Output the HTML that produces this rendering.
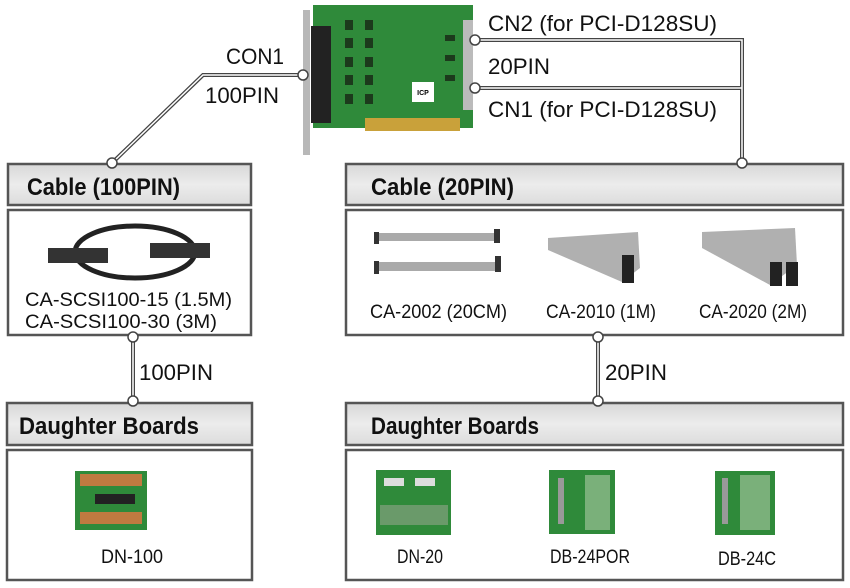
<!DOCTYPE html>
<html><head><meta charset="utf-8"><style>
body{margin:0;background:#fff}
svg{display:block}
.h{font-family:"Liberation Sans",sans-serif;font-weight:bold;font-size:24px;fill:#111}
.t{font-family:"Liberation Sans",sans-serif;font-size:22px;fill:#111}
.s{font-family:"Liberation Sans",sans-serif;font-size:19px;fill:#111}
</style></head><body>
<svg width="850" height="588" viewBox="0 0 850 588" xmlns="http://www.w3.org/2000/svg">
<defs>
<linearGradient id="g" x1="0" y1="0" x2="0" y2="1"><stop offset="0" stop-color="#d8d8d8"/><stop offset="0.5" stop-color="#ececec"/><stop offset="1" stop-color="#dcdcdc"/></linearGradient>
</defs>
<!-- PCI card -->
<rect x="303" y="10" width="7" height="145" fill="#b8b8b8"/>
<rect x="313" y="5" width="160" height="123" fill="#2f8a3a"/>
<rect x="365" y="118" width="95" height="13" fill="#c9a13a"/>
<rect x="311" y="26" width="20" height="97" fill="#222"/>
<rect x="463" y="20" width="10" height="90" fill="#bbb"/>
<g fill="#1c3a1c">
<rect x="345" y="20" width="8" height="10"/><rect x="365" y="20" width="8" height="10"/>
<rect x="345" y="38" width="8" height="10"/><rect x="365" y="38" width="8" height="10"/>
<rect x="345" y="57" width="8" height="10"/><rect x="365" y="57" width="8" height="10"/>
<rect x="345" y="75" width="8" height="10"/><rect x="365" y="75" width="8" height="10"/>
<rect x="345" y="94" width="8" height="10"/><rect x="365" y="94" width="8" height="10"/>
<rect x="445" y="35" width="10" height="6"/><rect x="445" y="55" width="10" height="6"/><rect x="445" y="75" width="10" height="6"/>
</g>
<rect x="412" y="82" width="22" height="20" fill="#fff"/>
<text x="423" y="95" font-size="7" text-anchor="middle" font-family="Liberation Sans" font-weight="bold">ICP</text>
<!-- connectors -->
<g fill="none" stroke="#444" stroke-width="4">
<polyline points="303,75 203,75 112,163"/>
<polyline points="475,40 742,40 742,163"/>
<polyline points="475,88 742,88"/>
<line x1="133" y1="335" x2="133" y2="402"/>
<line x1="598" y1="335" x2="598" y2="402"/>
</g>
<g fill="none" stroke="#fff" stroke-width="1.5">
<polyline points="303,75 203,75 112,163"/>
<polyline points="475,40 742,40 742,163"/>
<polyline points="475,88 742,88"/>
<line x1="133" y1="335" x2="133" y2="402"/>
<line x1="598" y1="335" x2="598" y2="402"/>
</g>
<text x="226" y="64" class="t" textLength="58" lengthAdjust="spacingAndGlyphs">CON1</text>
<text x="205" y="103" class="t" textLength="74" lengthAdjust="spacingAndGlyphs">100PIN</text>
<text x="488" y="31" class="t" textLength="229" lengthAdjust="spacingAndGlyphs">CN2 (for PCI-D128SU)</text>
<text x="488" y="74" class="t" textLength="62" lengthAdjust="spacingAndGlyphs">20PIN</text>
<text x="488" y="117" class="t" textLength="229" lengthAdjust="spacingAndGlyphs">CN1 (for PCI-D128SU)</text>
<text x="139" y="380" class="t" textLength="74" lengthAdjust="spacingAndGlyphs">100PIN</text>
<text x="605" y="380" class="t" textLength="62" lengthAdjust="spacingAndGlyphs">20PIN</text>
<!-- boxes -->
<g stroke="#555" stroke-width="2.5">
<rect x="8" y="164" width="243" height="41" fill="url(#g)"/>
<rect x="8" y="210" width="243" height="125" fill="#fff"/>
<rect x="346" y="164" width="497" height="41" fill="url(#g)"/>
<rect x="346" y="210" width="497" height="125" fill="#fff"/>
<rect x="7" y="403" width="245" height="42" fill="url(#g)"/>
<rect x="7" y="450" width="245" height="130" fill="#fff"/>
<rect x="346" y="403" width="497" height="42" fill="url(#g)"/>
<rect x="346" y="450" width="497" height="130" fill="#fff"/>
</g>
<g fill="#fff" stroke="#444" stroke-width="1.5">
<circle cx="303" cy="75" r="5"/><circle cx="112" cy="163" r="5"/>
<circle cx="475" cy="40" r="5"/><circle cx="475" cy="88" r="5"/><circle cx="742" cy="163" r="5"/>
<circle cx="133" cy="337" r="5"/><circle cx="133" cy="401" r="5"/>
<circle cx="598" cy="337" r="5"/><circle cx="598" cy="401" r="5"/>
</g>
<text x="27" y="195" class="h" textLength="153" lengthAdjust="spacingAndGlyphs">Cable (100PIN)</text>
<text x="371" y="195" class="h" textLength="143" lengthAdjust="spacingAndGlyphs">Cable (20PIN)</text>
<text x="19" y="434" class="h" textLength="180" lengthAdjust="spacingAndGlyphs">Daughter Boards</text>
<text x="371" y="434" class="h" textLength="168" lengthAdjust="spacingAndGlyphs">Daughter Boards</text>
<!-- cable images -->
<ellipse cx="135" cy="252" rx="60" ry="26" fill="none" stroke="#222" stroke-width="5"/>
<rect x="48" y="248" width="60" height="15" fill="#333"/>
<rect x="150" y="243" width="60" height="15" fill="#333"/>
<text x="25" y="306" class="s" textLength="207" lengthAdjust="spacingAndGlyphs">CA-SCSI100-15 (1.5M)</text>
<text x="25" y="328" class="s" textLength="192" lengthAdjust="spacingAndGlyphs">CA-SCSI100-30 (3M)</text>
<rect x="378" y="233" width="118" height="8" fill="#aaa"/><rect x="378" y="262" width="120" height="9" fill="#aaa"/>
<rect x="374" y="232" width="5" height="12" fill="#333"/><rect x="494" y="229" width="6" height="14" fill="#333"/>
<rect x="374" y="261" width="5" height="13" fill="#333"/><rect x="495" y="256" width="6" height="16" fill="#333"/>
<polygon points="548,238 638,232 640,268 622,282 548,250" fill="#b0b0b0"/>
<rect x="622" y="255" width="12" height="28" fill="#222"/>
<polygon points="702,232 795,228 797,265 770,285 702,248" fill="#b0b0b0"/>
<rect x="770" y="262" width="12" height="24" fill="#222"/><rect x="786" y="262" width="12" height="24" fill="#222"/>
<text x="370" y="318" class="s" textLength="137" lengthAdjust="spacingAndGlyphs">CA-2002 (20CM)</text>
<text x="546" y="318" class="s" textLength="110" lengthAdjust="spacingAndGlyphs">CA-2010 (1M)</text>
<text x="699" y="318" class="s" textLength="108" lengthAdjust="spacingAndGlyphs">CA-2020 (2M)</text>
<!-- boards -->
<rect x="75" y="471" width="72" height="59" fill="#2f8a3a"/>
<rect x="80" y="474" width="62" height="12" fill="#c07a40"/><rect x="80" y="512" width="62" height="12" fill="#c07a40"/>
<rect x="95" y="494" width="40" height="10" fill="#222"/>
<text x="101" y="563" class="s" textLength="62" lengthAdjust="spacingAndGlyphs">DN-100</text>
<rect x="376" y="470" width="75" height="65" fill="#2f8a3a"/>
<rect x="384" y="478" width="20" height="8" fill="#ddd"/><rect x="415" y="478" width="20" height="8" fill="#ddd"/>
<rect x="380" y="505" width="68" height="20" fill="#6a9a6a"/>
<text x="397" y="563" class="s" textLength="46" lengthAdjust="spacingAndGlyphs">DN-20</text>
<rect x="549" y="470" width="66" height="64" fill="#2f8a3a"/>
<rect x="558" y="478" width="6" height="46" fill="#999"/>
<rect x="585" y="475" width="25" height="55" fill="#7ab07a"/>
<text x="550" y="563" class="s" textLength="80" lengthAdjust="spacingAndGlyphs">DB-24POR</text>
<rect x="715" y="471" width="60" height="64" fill="#2f8a3a"/>
<rect x="722" y="478" width="6" height="46" fill="#999"/>
<rect x="740" y="475" width="30" height="55" fill="#7ab07a"/>
<text x="718" y="565" class="s" textLength="58" lengthAdjust="spacingAndGlyphs">DB-24C</text>
</svg>
</body></html>
